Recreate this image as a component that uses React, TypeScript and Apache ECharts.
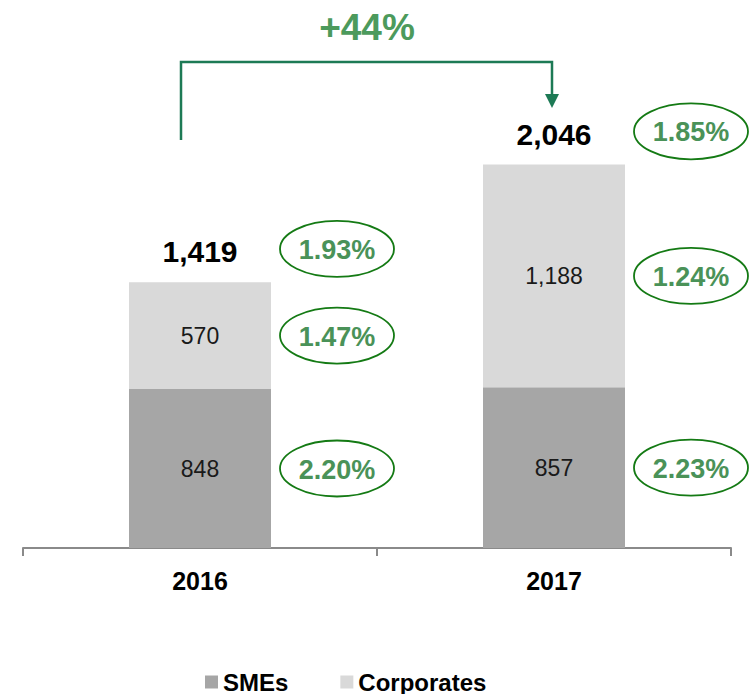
import React, { useEffect, useRef } from "react";
import * as echarts from "echarts";

const categories = ["2016", "2017"];
const smes = [848, 857];
const corporates = [570, 1188];
const totals = [1419, 2046];
const smeRates = ["2.20%", "2.23%"];
const corpRates = ["1.47%", "1.24%"];
const totalRates = ["1.93%", "1.85%"];
const growthLabel = "+44%";
const seriesNames = ["SMEs", "Corporates"];

const FONT = "'Liberation Sans', Arial, Helvetica, sans-serif";
const fmt = (v: number) => v.toLocaleString("en-US");

type RateItem = { cat: number; pos: number; text: string; dy: number };

export default function App() {
  const ref = useRef<HTMLDivElement>(null);

  useEffect(() => {
    if (!ref.current) return;
    const chart = echarts.init(ref.current, undefined, { renderer: "svg" });

    const rateItems: RateItem[] = [];
    categories.forEach((_, i) => {
      rateItems.push({ cat: i, pos: smes[i] / 2, text: smeRates[i], dy: 0 });
      rateItems.push({ cat: i, pos: smes[i] + corporates[i] / 2, text: corpRates[i], dy: 0 });
      rateItems.push({ cat: i, pos: totals[i], text: totalRates[i], dy: -33 });
    });

    const option: any = {
      animation: false,
      backgroundColor: "#ffffff",
      textStyle: { fontFamily: FONT },
      grid: { left: 23, right: 23, top: 98, bottom: 146, containLabel: false },
      legend: {
        data: seriesNames,
        left: 200,
        top: 664,
        icon: "rect",
        itemWidth: 13,
        itemHeight: 13,
        itemGap: 52,
        textStyle: { fontFamily: FONT, fontSize: 24, fontWeight: "bold", color: "#000", lineHeight: 26 },
      },
      xAxis: {
        type: "category",
        data: categories,
        axisLine: { show: true, lineStyle: { color: "#8a8a8a", width: 2 } },
        axisTick: { show: true, length: 8, lineStyle: { color: "#8a8a8a", width: 2 } },
        axisLabel: {
          margin: 20,
          fontFamily: FONT,
          fontSize: 25,
          fontWeight: "bold",
          color: "#000",
        },
      },
      yAxis: {
        type: "value",
        min: 0,
        max: 2400,
        show: false,
        splitLine: { show: false },
      },
      series: [
        {
          name: seriesNames[0],
          type: "bar",
          stack: "total",
          barWidth: 142,
          data: smes,
          itemStyle: { color: "#a6a6a6" },
          label: {
            show: true,
            position: "inside",
            fontFamily: FONT,
            fontSize: 23,
            color: "#1a1a1a",
            formatter: (p: any) => fmt(p.value),
          },
        },
        {
          name: seriesNames[1],
          type: "bar",
          stack: "total",
          barWidth: 142,
          data: corporates,
          itemStyle: { color: "#d9d9d9" },
          label: {
            show: true,
            position: "inside",
            fontFamily: FONT,
            fontSize: 23,
            color: "#1a1a1a",
            formatter: (p: any) => fmt(p.value),
          },
        },
        {
          name: "totals",
          type: "custom",
          silent: true,
          data: totals.map((t, i) => [i, t]),
          renderItem: (params: any, api: any) => {
            const i = params.dataIndex;
            const p = api.coord([i, totals[i]]);
            return {
              type: "text",
              x: p[0],
              y: p[1] - 30,
              style: {
                text: fmt(totals[i]),
                font: `bold 30px ${FONT}`,
                fill: "#000",
                align: "center",
                verticalAlign: "middle",
              },
            };
          },
        },
        {
          name: "rates",
          type: "custom",
          silent: true,
          data: rateItems.map((r) => [r.cat, r.pos]),
          renderItem: (params: any, api: any) => {
            const r = rateItems[params.dataIndex];
            const p = api.coord([r.cat, r.pos]);
            const cx = p[0] + 137;
            const cy = p[1] + r.dy;
            return {
              type: "group",
              children: [
                {
                  type: "ellipse",
                  shape: { cx, cy, rx: 57, ry: 28 },
                  style: { fill: "none", stroke: "#147a14", lineWidth: 1.8 },
                },
                {
                  type: "text",
                  x: cx,
                  y: cy + 1,
                  style: {
                    text: r.text,
                    font: `bold 27px ${FONT}`,
                    fill: "#4a9258",
                    align: "center",
                    verticalAlign: "middle",
                  },
                },
              ],
            };
          },
        },
      ],
      graphic: [
        {
          type: "polyline",
          shape: { points: [[181, 140], [181, 62], [552, 62], [552, 96]] },
          style: { stroke: "#1d7a55", lineWidth: 2.5, fill: "none" },
        },
        {
          type: "polygon",
          shape: { points: [[545, 94], [559, 94], [552, 108]] },
          style: { fill: "#1d7a55" },
        },
        {
          type: "text",
          x: 367,
          y: 27,
          style: {
            text: growthLabel,
            font: `bold 37px ${FONT}`,
            fill: "#4c9a5c",
            align: "center",
            verticalAlign: "middle",
          },
        },
      ],
    };

    chart.setOption(option);
    return () => chart.dispose();
  }, []);

  return (
    <div
      ref={ref}
      style={{ position: "fixed", left: 0, top: 0, width: 754, height: 694 }}
    />
  );
}
